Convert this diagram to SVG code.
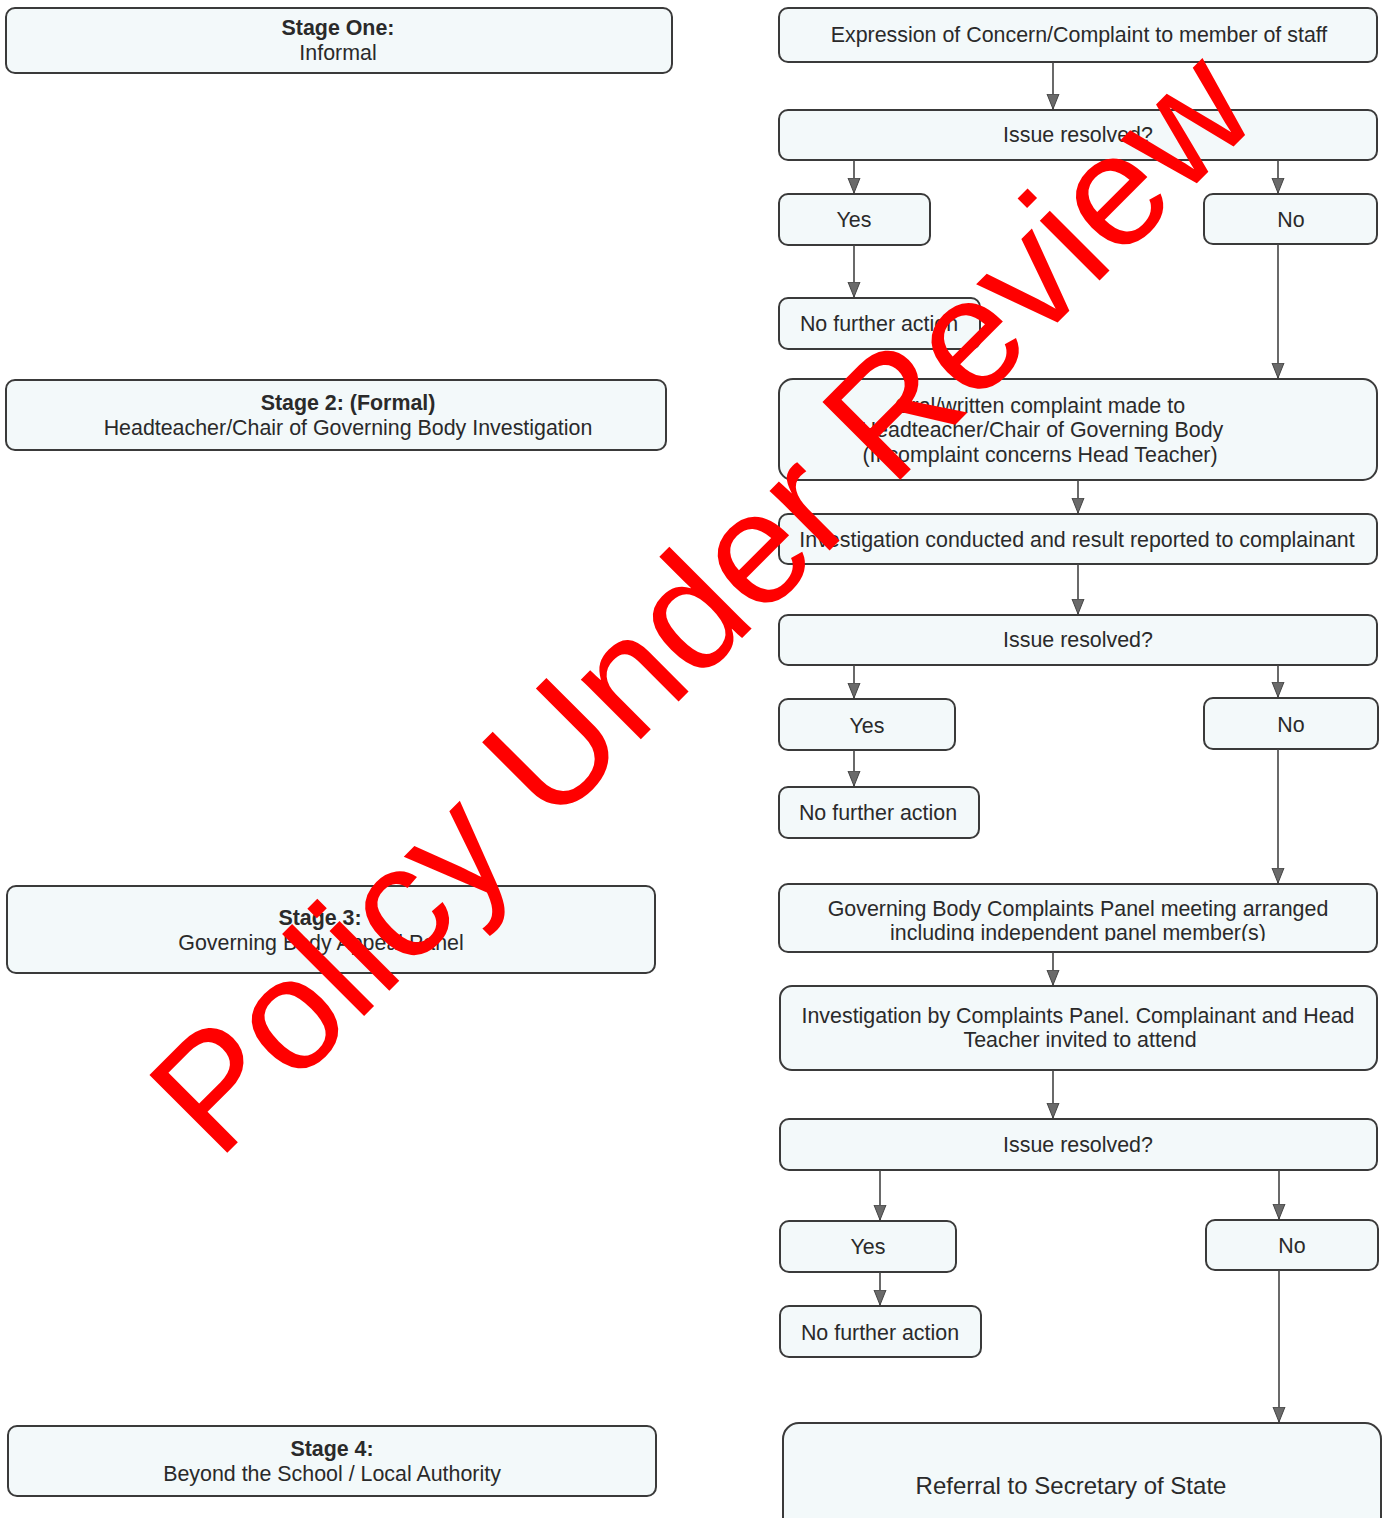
<svg xmlns="http://www.w3.org/2000/svg" width="1386" height="1518" viewBox="0 0 1386 1518">
<style>
.box{fill:#f3f9fa;stroke:#3a3a3a;stroke-width:2}
.t{font-family:"Liberation Sans",Arial,sans-serif;font-size:21.4px;fill:#2a2a2a;text-anchor:middle}
.b{font-weight:bold}
.big{font-size:24px}
.c{stroke:#444;stroke-width:1.6;fill:none;marker-end:url(#ah)}
.wm{font-family:"Liberation Sans",Arial,sans-serif;font-size:160px;fill:#ff0000;text-anchor:middle}
</style>
<defs>
<marker id="ah" markerUnits="userSpaceOnUse" markerWidth="16" markerHeight="14" refX="15" refY="7" orient="auto" viewBox="0 0 16 14">
<path d="M0,1 L15,7 L0,13 z" fill="#6a6a6a" stroke="#444" stroke-width="1"/>
</marker>
<clipPath id="clipL"><rect x="779" y="884" width="598" height="57"/></clipPath>
</defs>
<rect width="1386" height="1518" fill="#ffffff"/>

<g id="stage1"><rect class="box" x="6" y="8" width="666" height="65" rx="9"/><text class="t b" x="338" y="35">Stage One:</text><text class="t" x="338" y="60">Informal</text></g>
<g id="stage2"><rect class="box" x="6" y="380" width="660" height="70" rx="9"/><text class="t b" x="348" y="410">Stage 2: (Formal)</text><text class="t" x="348" y="435">Headteacher/Chair of Governing Body Investigation</text></g>
<g id="stage3"><rect class="box" x="7" y="886" width="648" height="87" rx="9"/><text class="t b" x="320" y="925">Stage 3:</text><text class="t" x="321" y="950">Governing Body Appeal Panel</text></g>
<g id="stage4"><rect class="box" x="8" y="1426" width="648" height="70" rx="9"/><text class="t b" x="332" y="1456">Stage 4:</text><text class="t" x="332" y="1481">Beyond the School / Local Authority</text></g>

<g id="expression"><rect class="box" x="779" y="8" width="598" height="54" rx="9"/><text class="t" x="1079" y="42">Expression of Concern/Complaint to member of staff</text></g>
<g id="resolved1"><rect class="box" x="779" y="110" width="598" height="50" rx="9"/><text class="t" x="1078" y="142">Issue resolved?</text></g>
<g id="yes1"><rect class="box" x="779" y="194" width="151" height="51" rx="9"/><text class="t" x="854" y="227">Yes</text></g>
<g id="no1"><rect class="box" x="1204" y="194" width="173" height="50" rx="9"/><text class="t" x="1291" y="227">No</text></g>
<g id="nfa1"><rect class="box" x="779" y="298" width="201" height="51" rx="9"/><text class="t" x="879" y="331">No further action</text></g>
<g id="oral"><rect class="box" x="779" y="379" width="598" height="101" rx="14"/><text class="t" x="1040" y="413">Oral/written complaint made to</text><text class="t" x="1042" y="437">Headteacher/Chair of Governing Body</text><text class="t" x="1040" y="462">(If complaint concerns Head Teacher)</text></g>
<g id="investigation1"><rect class="box" x="779" y="514" width="598" height="50" rx="9"/><text class="t" x="1077" y="547">Investigation conducted and result reported to complainant</text></g>
<g id="resolved2"><rect class="box" x="779" y="615" width="598" height="50" rx="9"/><text class="t" x="1078" y="647">Issue resolved?</text></g>
<g id="yes2"><rect class="box" x="779" y="699" width="176" height="51" rx="9"/><text class="t" x="867" y="733">Yes</text></g>
<g id="no2"><rect class="box" x="1204" y="698" width="174" height="51" rx="9"/><text class="t" x="1291" y="732">No</text></g>
<g id="nfa2"><rect class="box" x="779" y="787" width="200" height="51" rx="9"/><text class="t" x="878" y="820">No further action</text></g>
<g id="panel"><rect class="box" x="779" y="884" width="598" height="68" rx="9"/><text class="t" x="1078" y="916">Governing Body Complaints Panel meeting arranged</text><text class="t" x="1078" y="940" clip-path="url(#clipL)">including independent panel member(s)</text></g>
<g id="investigation2"><rect class="box" x="780" y="986" width="597" height="84" rx="12"/><text class="t" x="1078" y="1023">Investigation by Complaints Panel. Complainant and Head</text><text class="t" x="1080" y="1047">Teacher invited to attend</text></g>
<g id="resolved3"><rect class="box" x="780" y="1119" width="597" height="51" rx="9"/><text class="t" x="1078" y="1152">Issue resolved?</text></g>
<g id="yes3"><rect class="box" x="780" y="1221" width="176" height="51" rx="9"/><text class="t" x="868" y="1254">Yes</text></g>
<g id="no3"><rect class="box" x="1206" y="1220" width="172" height="50" rx="9"/><text class="t" x="1292" y="1253">No</text></g>
<g id="nfa3"><rect class="box" x="780" y="1306" width="201" height="51" rx="9"/><text class="t" x="880" y="1340">No further action</text></g>
<g id="referral"><rect class="box" x="783" y="1423" width="598" height="110" rx="16"/><text class="t big" x="1071" y="1494">Referral to Secretary of State</text></g>

<g id="connectors">
<path class="c" d="M1053,62 V109"/>
<path class="c" d="M854,160 V193"/>
<path class="c" d="M1278,160 V193"/>
<path class="c" d="M854,245 V297"/>
<path class="c" d="M1278,244 V378"/>
<path class="c" d="M1078,480 V513"/>
<path class="c" d="M1078,564 V614"/>
<path class="c" d="M854,665 V698"/>
<path class="c" d="M1278,665 V697"/>
<path class="c" d="M854,750 V786"/>
<path class="c" d="M1278,749 V883"/>
<path class="c" d="M1053,952 V985"/>
<path class="c" d="M1053,1070 V1118"/>
<path class="c" d="M880,1170 V1220"/>
<path class="c" d="M1279,1170 V1219"/>
<path class="c" d="M880,1272 V1305"/>
<path class="c" d="M1279,1270 V1422"/>
</g>

<text class="wm" x="740" y="640" transform="rotate(-45 740 640)">Policy Under Review</text>
</svg>
